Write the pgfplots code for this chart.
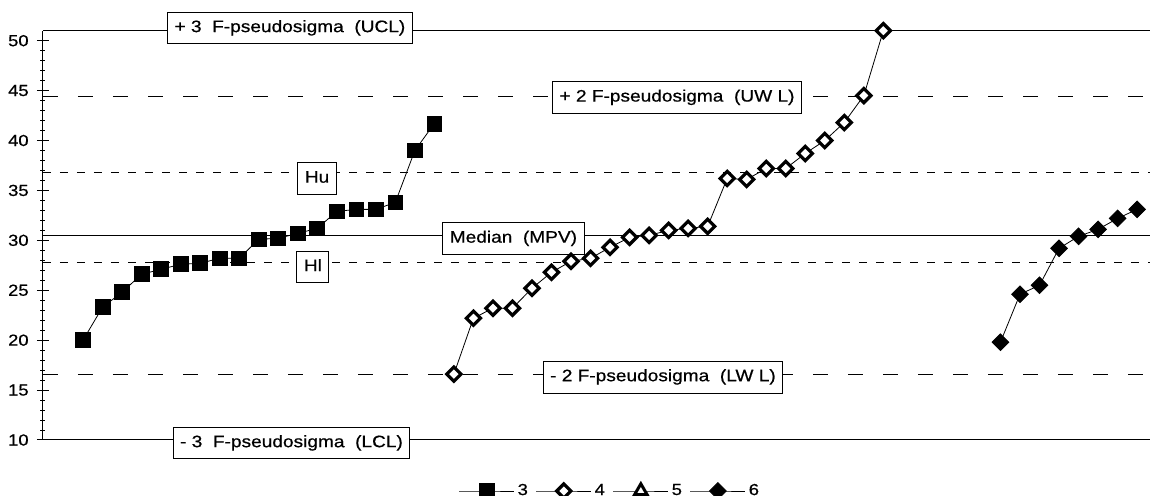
\documentclass[border=0pt]{standalone}
\usepackage{pgfplots}
\pgfplotsset{compat=1.18}
\usepackage{fontspec}
\setmainfont{Liberation Sans}[FakeStretch=1.15, FakeBold=0.6]
\begin{document}
\begin{tikzpicture}
\tikzset{lbl/.style={draw=black, fill=white, line width=0.5pt, inner xsep=3.5pt, inner ysep=4pt,
  text height=6pt, text depth=1.9pt, font=\fontsize{8.3}{9}\selectfont}}
\begin{axis}[
  at={(0,0)}, anchor=south west,
  scale only axis, width=553.5pt, height=204.65pt,
  xmin=-2.05, xmax=54.66, ymin=10, ymax=51,
  axis x line=none, axis y line*=left,
  axis line style={line width=0.5pt},
  xtick=\empty,
  ytick={10,15,...,50}, minor y tick num=4,
  tick align=center, major tick length=6pt, minor tick length=2.5pt,
  tick style={line width=0.5pt, black},
  /pgf/number format/assume math mode=true,
  yticklabel style={font=\fontsize{8}{9}\selectfont, inner sep=0pt, xshift=-4pt},
  clip=false,
  legend image code/.code={\draw[mark repeat=2,mark phase=2,#1] plot coordinates {(0pt,0pt)(13.75pt,0pt)(27.5pt,0pt)};},
  legend style={draw=none, fill=none, legend columns=4,
    at={(axis description cs:0.5126,-0.1246)}, anchor=center,
    font=\fontsize{8}{9}\selectfont,
    /tikz/every even column/.append style={column sep=2.5pt},
    nodes={inner sep=1.5pt}},
]
% reference lines
\addplot[black, line width=0.5pt, forget plot] coordinates {(-2.05,51) (54.66,51)};
\addplot[black, line width=0.5pt, forget plot] coordinates {(-2.05,30.5) (54.66,30.5)};
\addplot[black, line width=0.5pt, forget plot] coordinates {(-2.05,10) (54.66,10)};
\addplot[black, line width=0.5pt, dash pattern=on 7.5pt off 10pt, forget plot] coordinates {(-2.05,44.4) (54.66,44.4)};
\addplot[black, line width=0.5pt, dash pattern=on 7.5pt off 10pt, forget plot] coordinates {(-2.05,16.6) (54.66,16.6)};
\addplot[black, line width=0.5pt, dash pattern=on 4pt off 4.5pt, forget plot] coordinates {(-2.05,36.8) (54.66,36.8)};
\addplot[black, line width=0.5pt, dash pattern=on 4pt off 4.5pt, forget plot] coordinates {(-2.05,27.75) (54.66,27.75)};
% series 3
\addplot[black, line width=0.4pt, mark=square*, mark size=3.7pt, mark options={solid, fill=black}] coordinates {
(0,20.0) (1,23.3) (2,24.8) (3,26.6) (4,27.1) (5,27.6) (6,27.7) (7,28.2) (8,28.2) (9,30.1)
(10,30.2) (11,30.7) (12,31.2) (13,32.9) (14,33.1) (15,33.1) (16,33.8) (17,39.0) (18,41.7)};
\addlegendentry{3}
% series 4
\addplot[black, line width=0.4pt, mark=square*, mark size=2.5pt, mark options={solid, rotate=45, line width=1.6pt, draw=black, fill=white}] coordinates {
(19,16.6) (20,22.2) (21,23.2) (22,23.2) (23,25.2) (24,26.8) (25,27.9) (26,28.2) (27,29.3) (28,30.3)
(29,30.5) (30,31.0) (31,31.2) (32,31.4) (33,36.2) (34,36.1) (35,37.2) (36,37.2) (37,38.7) (38,40.0)
(39,41.8) (40,44.5) (41,51.0)};
\addlegendentry{4}
% series 5 (no visible points)
\addlegendimage{black, line width=0.4pt, mark=triangle*, mark size=3.6pt, mark options={solid, line width=1.5pt, draw=black, fill=white}}
\addlegendentry{5}
% series 6
\addplot[black, line width=0.4pt, mark=square*, mark size=2.95pt, mark options={solid, rotate=45, fill=black}] coordinates {
(47,19.8) (48,24.6) (49,25.5) (50,29.2) (51,30.4) (52,31.1) (53,32.2) (54,33.1)};
\addlegendentry{6}
% labels
\node[lbl] at (axis cs:10.60,51.27) {+ 3~ F-pseudosigma~ (UCL)};
\node[lbl] at (axis cs:30.43,44.31) {+ 2 F-pseudosigma~ (UW L)};
\node[lbl] at (axis cs:11.99,36.19) {Hu};
\node[lbl] at (axis cs:22.05,30.18) {Median~ (MPV)};
\node[lbl] at (axis cs:11.78,27.32) {Hl};
\node[lbl] at (axis cs:29.71,16.30) {- 2 F-pseudosigma~ (LW L)};
\node[lbl] at (axis cs:10.68,9.69) {- 3~ F-pseudosigma~ (LCL)};
\end{axis}
\pgfresetboundingbox
\path[use as bounding box] (-21.5pt,-28pt) rectangle (553.5pt,220pt);
\end{tikzpicture}
\end{document}
